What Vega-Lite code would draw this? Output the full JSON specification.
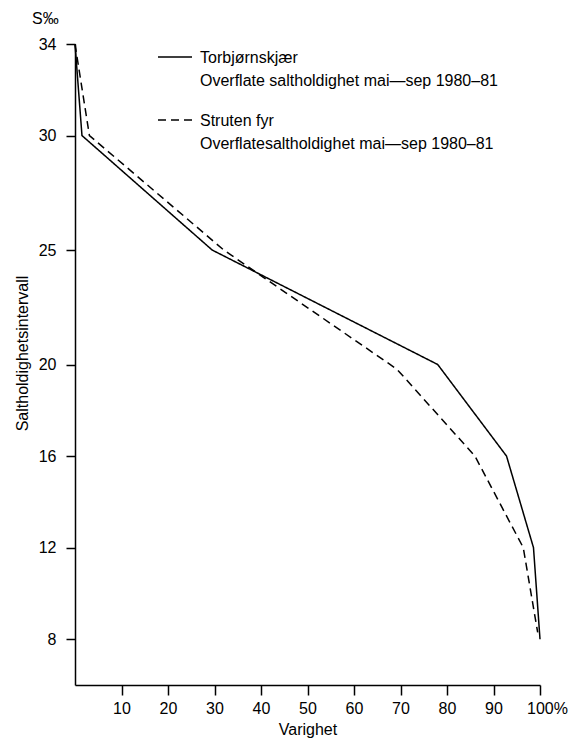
{
  "$schema": "https://vega.github.io/schema/vega-lite/v6.json",
  "width": 465,
  "height": 641,
  "autosize": "none",
  "padding": {"left": 75, "top": 44, "right": 31, "bottom": 57},
  "background": "white",
  "title": {
    "text": "S‰",
    "anchor": "start",
    "frame": "group",
    "dx": -43,
    "offset": 9,
    "fontSize": 16,
    "fontWeight": "normal",
    "font": "Liberation Sans",
    "color": "black"
  },
  "config": {
    "view": {"stroke": null},
    "font": "Liberation Sans",
    "axis": {
      "grid": false,
      "domainColor": "black",
      "domainWidth": 1.5,
      "tickColor": "black",
      "tickWidth": 1.5,
      "tickSize": 9,
      "labelColor": "black",
      "labelFontSize": 16,
      "labelFont": "Liberation Sans",
      "labelFlush": false,
      "titleColor": "black",
      "titleFont": "Liberation Sans",
      "titleFontSize": 16,
      "titleFontWeight": "normal"
    }
  },
  "data": {
    "values": [
      {"station": "Torbjørnskjær", "varighet": 0, "salt": 34},
      {"station": "Torbjørnskjær", "varighet": 1.5, "salt": 30},
      {"station": "Torbjørnskjær", "varighet": 29.5, "salt": 25},
      {"station": "Torbjørnskjær", "varighet": 78, "salt": 20},
      {"station": "Torbjørnskjær", "varighet": 92.8, "salt": 16},
      {"station": "Torbjørnskjær", "varighet": 98.6, "salt": 12},
      {"station": "Torbjørnskjær", "varighet": 100, "salt": 8},
      {"station": "Struten fyr", "varighet": 0, "salt": 34},
      {"station": "Struten fyr", "varighet": 3.1, "salt": 30},
      {"station": "Struten fyr", "varighet": 32, "salt": 25},
      {"station": "Struten fyr", "varighet": 69.2, "salt": 19.8},
      {"station": "Struten fyr", "varighet": 86, "salt": 16},
      {"station": "Struten fyr", "varighet": 96.4, "salt": 12},
      {"station": "Struten fyr", "varighet": 99.5, "salt": 8.3}
    ]
  },
  "mark": {"type": "line", "color": "black", "strokeWidth": 1.5},
  "encoding": {
    "x": {
      "field": "varighet",
      "type": "quantitative",
      "scale": {"domain": [0, 100], "nice": false, "zero": false},
      "axis": {
        "title": "Varighet",
        "values": [10, 20, 30, 40, 50, 60, 70, 80, 90, 100],
        "tickSize": 10,
        "labelPadding": 5,
        "titlePadding": 5,
        "labelExpr": "datum.value == 100 ? '100%' : datum.label",
        "labelOffset": {"condition": {"test": "datum.value == 100", "value": 7}, "value": 0}
      }
    },
    "y": {
      "field": "salt",
      "type": "quantitative",
      "scale": {"domain": [6, 34], "nice": false, "zero": false},
      "axis": {
        "title": "Saltholdighetsintervall",
        "values": [8, 12, 16, 20, 25, 30, 34],
        "tickSize": 9,
        "labelPadding": 10,
        "titlePadding": 8,
        "titleY": 309
      }
    },
    "strokeDash": {
      "field": "station",
      "type": "nominal",
      "scale": {"domain": ["Torbjørnskjær", "Struten fyr"], "range": [[1, 0], [8, 5]]},
      "legend": {
        "orient": "none",
        "legendX": 82,
        "legendY": -5,
        "title": null,
        "padding": 0,
        "symbolType": "stroke",
        "symbolSize": 1156,
        "symbolStrokeWidth": 1.5,
        "symbolStrokeColor": "black",
        "labelFont": "Liberation Sans",
        "labelFontSize": 16,
        "labelColor": "black",
        "labelLimit": 500,
        "labelOffset": 7,
        "labelBaseline": "top",
        "rowPadding": 13,
        "labelExpr": "datum.label == 'Torbjørnskjær' ? ['Torbjørnskjær', 'Overflate saltholdighet mai—sep 1980–81'] : ['Struten fyr', 'Overflatesaltholdighet mai—sep 1980–81']",
        "encode": {
          "labels": {"update": {"dy": {"value": -7}, "lineHeight": {"value": 23}}}
        }
      }
    }
  }
}
